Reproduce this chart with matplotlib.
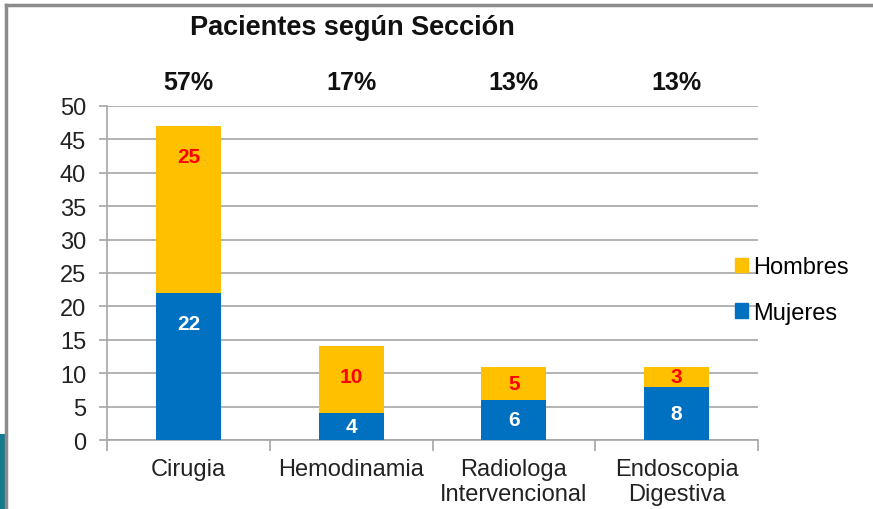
import matplotlib
matplotlib.use('Agg')
import matplotlib.pyplot as plt
import numpy as np
from matplotlib.patches import Patch, Rectangle
from matplotlib.lines import Line2D

plt.rcParams['font.family'] = ['Liberation Sans', 'DejaVu Sans']

# datos
categorias = ['Cirugia', 'Hemodinamia', 'Radiologa\nIntervencional', 'Endoscopia\nDigestiva']
mujeres = [22, 4, 6, 8]
hombres = [25, 10, 5, 3]
porcentajes = ['57%', '17%', '13%', '13%']
titulo = 'Pacientes según Sección'

azul = '#0070C0'
oro = '#FFC000'
gris = '#A6A6A6'

fig = plt.figure(figsize=(8.73, 5.10), dpi=100)
ax = fig.add_axes([107 / 873, 1 - 441 / 510, 651 / 873, 334 / 510])

x = np.arange(len(categorias))
ancho = 0.4
ax.bar(x, mujeres, ancho, color=azul, label='Mujeres', zorder=3)
ax.bar(x, hombres, ancho, bottom=mujeres, color=oro, label='Hombres', zorder=3)

# etiquetas de valores
for i in range(len(x)):
    m, h = mujeres[i], hombres[i]
    ym = max(m / 2, m - 4.5)
    yh = max(m + h / 2, m + h - 4.5)
    ax.text(x[i], ym, str(m), ha='center', va='center', color='white',
            fontsize=15, fontweight='bold', zorder=4)
    ax.text(x[i], yh, str(h), ha='center', va='center', color='red',
            fontsize=15, fontweight='bold', zorder=4)
    ax.text(x[i], 1.035, porcentajes[i], transform=ax.get_xaxis_transform(),
            ha='center', va='bottom', fontsize=18, fontweight='bold', color='#111111')

ax.set_xlim(-0.5, len(x) - 0.5)
ax.set_ylim(0, 50)
ax.set_yticks(np.arange(0, 51, 5))
ax.yaxis.grid(True, color=gris, linewidth=1.2, zorder=0)
ax.set_axisbelow(True)

ax.set_xticks(x)
ax.set_xticklabels(categorias, fontsize=17, color='#222222', linespacing=1.2)
ax.set_xticks(np.arange(-0.5, len(x)), minor=True)
ax.tick_params(axis='x', which='major', length=0, pad=13)
ax.tick_params(axis='x', which='minor', length=8, width=1.2, color=gris)
ax.tick_params(axis='y', length=6, width=1.2, color=gris, pad=9,
               labelsize=17, labelcolor='#222222')

for s in ['top', 'right']:
    ax.spines[s].set_visible(False)
for s in ['left', 'bottom']:
    ax.spines[s].set_color(gris)
    ax.spines[s].set_linewidth(1.2)

fig.text(352 / 873, 1 - 28 / 510, titulo, ha='center', va='center',
         fontsize=19.5, fontweight='bold', color='#111111')

handles = [Patch(color=oro), Patch(color=azul)]
fig.legend(handles, ['Hombres', 'Mujeres'], loc='center left',
           bbox_to_anchor=(735 / 873, 1 - 291 / 510), bbox_transform=fig.transFigure,
           frameon=False, fontsize=17, handlelength=0.55, handleheight=0.55,
           handletextpad=0.2, labelspacing=1.0, borderpad=0, borderaxespad=0)

# marco de la diapositiva
fig.add_artist(Line2D([6 / 873, 6 / 873], [0, 1 - 6 / 510], transform=fig.transFigure,
                      color='#8C8C8C', linewidth=2.5))
fig.add_artist(Line2D([6 / 873, 1], [1 - 6 / 510, 1 - 6 / 510], transform=fig.transFigure,
                      color='#8C8C8C', linewidth=2.5))
fig.add_artist(Rectangle((0, 0), 5 / 873, 75 / 510, transform=fig.transFigure,
                         facecolor='#157A8C', edgecolor='none'))

fig.savefig('out.png', dpi=100)
